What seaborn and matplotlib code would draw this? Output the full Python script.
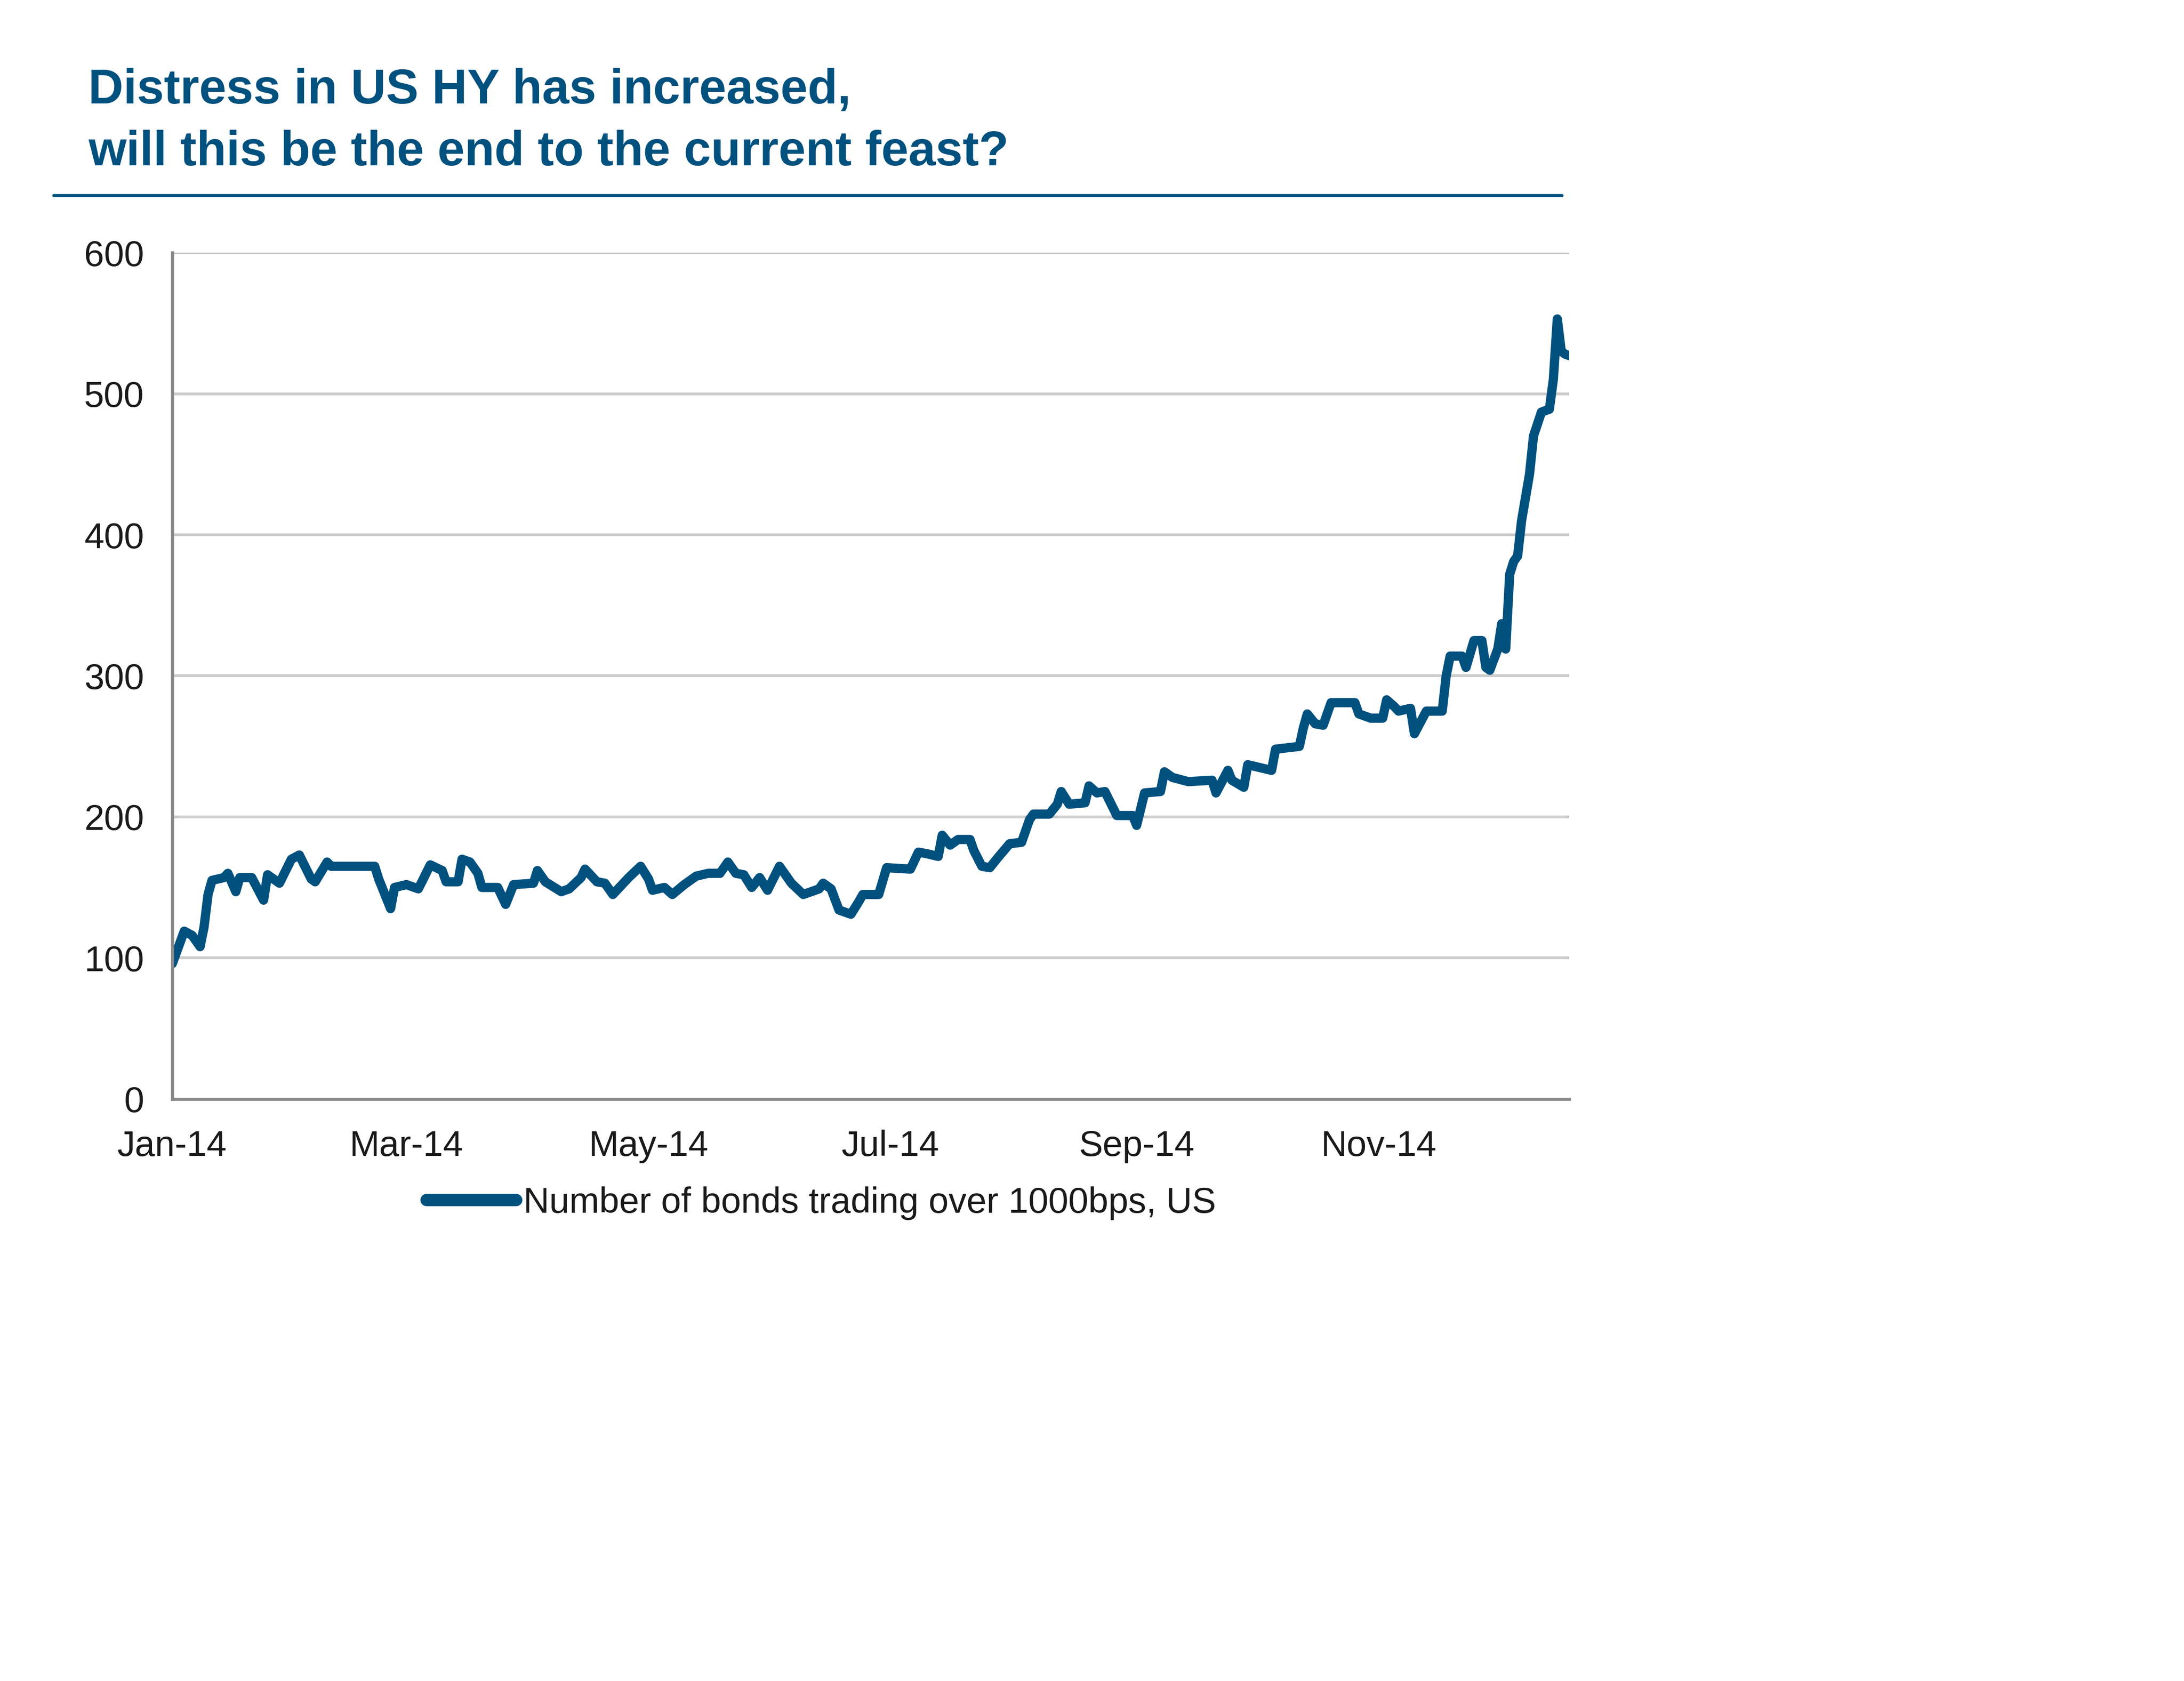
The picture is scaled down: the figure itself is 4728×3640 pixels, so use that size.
import pandas as pd
import matplotlib
matplotlib.use("Agg")
import matplotlib.pyplot as plt
import matplotlib.dates as mdates
from matplotlib.lines import Line2D
import seaborn as sns

# values
DATES = [
    "2014-01-01", "2014-01-04", "2014-01-06", "2014-01-08", "2014-01-09", "2014-01-10",
    "2014-01-11", "2014-01-14", "2014-01-15", "2014-01-17", "2014-01-18", "2014-01-21",
    "2014-01-24", "2014-01-25", "2014-01-28", "2014-01-31", "2014-02-02", "2014-02-05",
    "2014-02-06", "2014-02-09", "2014-02-10", "2014-02-21", "2014-02-22", "2014-02-25",
    "2014-02-26", "2014-03-01", "2014-03-04", "2014-03-07", "2014-03-10", "2014-03-11",
    "2014-03-14", "2014-03-15", "2014-03-17", "2014-03-19", "2014-03-20", "2014-03-24",
    "2014-03-26", "2014-03-28", "2014-04-02", "2014-04-03", "2014-04-05", "2014-04-09",
    "2014-04-11", "2014-04-14", "2014-04-15", "2014-04-18", "2014-04-20", "2014-04-22",
    "2014-04-24", "2014-04-26", "2014-04-29", "2014-05-01", "2014-05-02", "2014-05-05",
    "2014-05-07", "2014-05-10", "2014-05-13", "2014-05-16", "2014-05-19", "2014-05-21",
    "2014-05-23", "2014-05-25", "2014-05-27", "2014-05-29", "2014-05-31", "2014-06-03",
    "2014-06-06", "2014-06-09", "2014-06-13", "2014-06-14", "2014-06-16", "2014-06-18",
    "2014-06-21", "2014-06-23", "2014-06-24", "2014-06-28", "2014-06-30", "2014-07-06",
    "2014-07-08", "2014-07-10", "2014-07-13", "2014-07-14", "2014-07-16", "2014-07-18",
    "2014-07-21", "2014-07-22", "2014-07-24", "2014-07-26", "2014-07-28", "2014-07-31",
    "2014-08-03", "2014-08-05", "2014-08-06", "2014-08-10", "2014-08-12", "2014-08-13",
    "2014-08-15", "2014-08-19", "2014-08-20", "2014-08-22", "2014-08-24", "2014-08-27",
    "2014-08-31", "2014-09-01", "2014-09-03", "2014-09-07", "2014-09-08", "2014-09-10",
    "2014-09-14", "2014-09-20", "2014-09-21", "2014-09-24", "2014-09-25", "2014-09-28",
    "2014-09-29", "2014-10-05", "2014-10-06", "2014-10-12", "2014-10-13", "2014-10-14",
    "2014-10-16", "2014-10-18", "2014-10-20", "2014-10-26", "2014-10-27", "2014-10-30",
    "2014-11-02", "2014-11-03", "2014-11-05", "2014-11-06", "2014-11-09", "2014-11-10",
    "2014-11-13", "2014-11-17", "2014-11-18", "2014-11-19", "2014-11-22", "2014-11-23",
    "2014-11-25", "2014-11-27", "2014-11-28", "2014-11-29", "2014-12-01", "2014-12-02",
    "2014-12-03", "2014-12-04", "2014-12-05", "2014-12-06", "2014-12-07", "2014-12-09",
    "2014-12-10", "2014-12-12", "2014-12-14", "2014-12-15", "2014-12-16", "2014-12-17",
    "2014-12-18", "2014-12-19",
]
BONDS = [
    96, 119, 116, 108, 122, 145,
    155, 157, 160, 147, 157, 157,
    141, 159, 153, 170, 173, 156,
    154, 168, 165, 165, 156, 135,
    150, 152, 149, 166, 162, 154,
    154, 170, 168, 160, 150, 150,
    138, 152, 153, 162, 154, 147,
    149, 157, 163, 154, 153, 145,
    151, 157, 165, 156, 148, 150,
    145, 152, 158, 160, 160, 168,
    160, 159, 150, 157, 148, 165,
    153, 145, 149, 153, 149, 134,
    131, 140, 145, 145, 164, 163,
    175, 174, 172, 187, 180, 184,
    184, 176, 165, 164, 171, 181,
    182, 198, 202, 202, 209, 218,
    209, 210, 222, 217, 218, 201,
    201, 194, 217, 218, 232, 228,
    225, 226, 217, 233, 226, 221,
    237, 233, 248, 250, 263, 273,
    266, 265, 281, 281, 273, 270,
    270, 283, 278, 275, 277, 259,
    275, 275, 300, 314, 314, 306,
    325, 325, 306, 304, 319, 337,
    319, 372, 381, 385, 410, 443,
    470, 487, 489, 510, 553, 530,
    528, 527,
]
SERIES_LABEL = "Number of bonds trading over 1000bps, US"
TITLE_LINES = ["Distress in US HY has increased,", "will this be the end to the current feast?"]
Y_TICKS = [0, 100, 200, 300, 400, 500, 600]

BLUE = "#01517F"

df = pd.DataFrame({"date": pd.to_datetime(DATES), "bonds": BONDS})

sns.set_theme(style="white")
plt.rcParams["font.family"] = ["Liberation Sans", "DejaVu Sans"]

fig = plt.figure(figsize=(11.82, 9.10), dpi=400)
ax = fig.add_axes([0.0789, 0.3462, 0.6396, 0.5035])

sns.lineplot(data=df, x="date", y="bonds", color=BLUE, linewidth=3.6, ax=ax,
             legend=False)

ax.set_xlim(pd.Timestamp("2014-01-01"), pd.Timestamp("2014-12-19"))
ax.set_ylim(0, 600)
ax.set_yticks(Y_TICKS)
ax.xaxis.set_major_locator(mdates.MonthLocator(bymonth=[1, 3, 5, 7, 9, 11]))
ax.xaxis.set_major_formatter(mdates.DateFormatter("%b-%y"))
ax.set_xlabel("")
ax.set_ylabel("")

ax.grid(axis="y", color="#CBCBCB", linewidth=1.1)
ax.grid(axis="x", visible=False)
ax.set_axisbelow(True)
for side in ["top", "right"]:
    ax.spines[side].set_visible(False)
for side in ["left", "bottom"]:
    ax.spines[side].set_color("#8A8A8A")
    ax.spines[side].set_linewidth(1.2)
ax.tick_params(axis="both", length=0, labelsize=14, colors="#1A1A1A")
ax.tick_params(axis="y", pad=11)
ax.tick_params(axis="x", pad=12)

# title block with rule underneath
fig.text(0.0404, 0.9387, TITLE_LINES[0], fontsize=19, fontweight="bold",
         color=BLUE, va="baseline", ha="left")
fig.text(0.0404, 0.9017, TITLE_LINES[1], fontsize=19, fontweight="bold",
         color=BLUE, va="baseline", ha="left")
fig.add_artist(Line2D([0.0245, 0.7150], [0.8838, 0.8838], color=BLUE,
                      linewidth=1.2, transform=fig.transFigure))

handle = Line2D([], [], color=BLUE, linewidth=4.8, solid_capstyle="round")
fig.legend(handles=[handle], labels=[SERIES_LABEL], loc="center",
           bbox_to_anchor=(0.376, 0.2843), frameon=False, fontsize=14,
           handlelength=2.5, handletextpad=0.2, borderpad=0,
           labelcolor="#1A1A1A")

fig.savefig("out.png", dpi=400, facecolor="white")
plt.close(fig)
